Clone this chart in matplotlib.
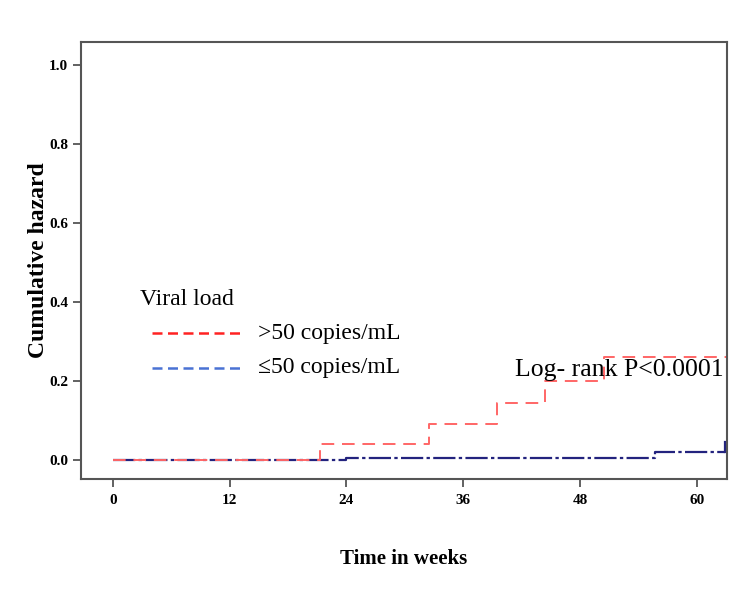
import matplotlib
matplotlib.use("Agg")
import matplotlib.pyplot as plt
import numpy as np

# Data (weeks, cumulative hazard)
red_times = [0, 21.3, 32.5, 39.5, 44.4, 50.5, 63.0]
red_hazard = [0.0, 0.04, 0.09, 0.144, 0.20, 0.26, 0.26]
blue_times = [0, 24.0, 55.7, 62.9]
blue_hazard = [0.0, 0.006, 0.021, 0.021]
blue_end_mark = [0.021, 0.045]
x_ticks = [0, 12, 24, 36, 48, 60]
y_ticks = [0.0, 0.2, 0.4, 0.6, 0.8, 1.0]

plt.rcParams['font.family'] = ['Liberation Serif', 'DejaVu Serif']

fig = plt.figure(figsize=(7.35, 5.89), dpi=100)
ax = fig.add_axes([0.110, 0.187, 0.879, 0.742])

red = '#ff6666'
navy = '#23237e'

ax.step(blue_times, blue_hazard, where='post', color=navy, lw=1.6,
        linestyle=(0, (10, 1.5, 1.5, 1.5)))
ax.plot([blue_times[-1], blue_times[-1]], blue_end_mark, color=navy, lw=1.6)
ax.step(red_times, red_hazard, where='post', color=red, lw=1.4,
        linestyle=(0, (6.5, 4)))

ax.set_xlim(-3.3, 63.1)
ax.set_ylim(-0.048, 1.058)
ax.set_xticks(x_ticks)
ax.set_yticks(y_ticks)
ax.set_xticklabels([str(t) for t in x_ticks], fontweight='bold', fontsize=11)
ax.set_yticklabels([f"{t:.1f}" for t in y_ticks], fontweight='bold', fontsize=11)
ax.tick_params(direction='out', length=6, width=1.3, color='#555555', pad=3)
ax.tick_params(axis='x', pad=5)
for s in ax.spines.values():
    s.set_color('#555555')
    s.set_linewidth(1.5)

ax.set_xlabel('Time in weeks', fontsize=15, fontweight='bold', labelpad=30)
ax.set_ylabel('Cumulative hazard', fontsize=17, fontweight='bold', labelpad=0)

# Legend drawn manually
ax.text(2.8, 0.405, 'Viral load', fontsize=17, va='center', ha='left')
ax.plot([4.0, 13.4], [0.32, 0.32], color='#ff2222', lw=1.8, linestyle=(0, (4, 2.2)))
ax.text(14.9, 0.32, '>50 copies/mL', fontsize=17, va='center', ha='left')
ax.plot([4.0, 13.4], [0.233, 0.233], color='#4a72d4', lw=1.8, linestyle=(0, (4, 2.2)))
ax.text(14.9, 0.233, '≤50 copies/mL', fontsize=17, va='center', ha='left')
ax.text(41.3, 0.228, 'Log- rank P<0.0001', fontsize=18.5, va='center', ha='left')

fig.savefig('out.png', dpi=100)
